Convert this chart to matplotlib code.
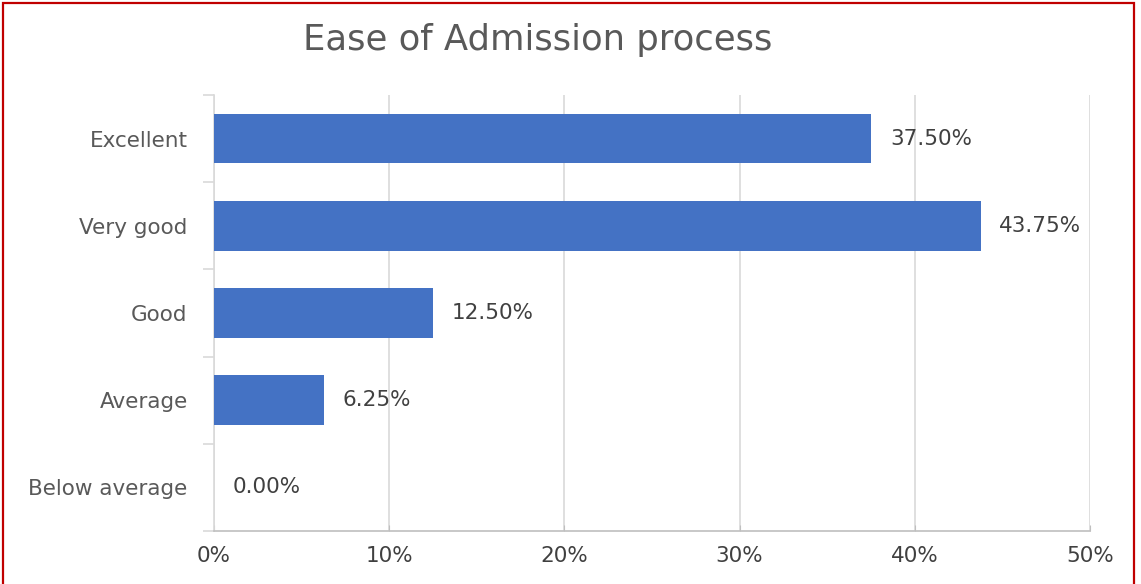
import matplotlib.pyplot as plt
from matplotlib.patches import Rectangle
from matplotlib.ticker import PercentFormatter

categories = ["Excellent", "Very good", "Good", "Average", "Below average"]
values = [37.50, 43.75, 12.50, 6.25, 0.00]
x_ticks = [0, 10, 20, 30, 40, 50]

plt.rcParams['font.family'] = ['DejaVu Sans']

fig = plt.figure(figsize=(11.41, 5.84), dpi=100)
ax = fig.add_axes([0.1876, 0.0908, 0.7677, 0.7466])

pos = list(range(len(categories)))
ax.barh(pos, values, height=0.57, color='#4472C4', zorder=3)
for p, v in zip(pos, values):
    ax.text(v + 1.08, p, f"{v:.2f}%", va='center', ha='left',
            fontsize=15.5, color='#404040')

ax.set_ylim(len(categories) - 0.5, -0.5)
ax.set_xlim(0, 50)
ax.set_xticks(x_ticks)
ax.xaxis.set_major_formatter(PercentFormatter(decimals=0))
ax.set_yticks(pos)
ax.set_yticklabels(categories)
ax.set_yticks([i - 0.5 for i in range(len(categories) + 1)], minor=True)

ax.grid(axis='x', color='#d9d9d9', linewidth=1.2, zorder=0)
for s in ['top', 'right']:
    ax.spines[s].set_visible(False)
ax.spines['left'].set_color('#d9d9d9')
ax.spines['left'].set_linewidth(1.2)
ax.spines['bottom'].set_color('#bfbfbf')
ax.spines['bottom'].set_linewidth(1.2)

ax.tick_params(axis='y', which='major', length=0, pad=19, labelsize=15.5, labelcolor='#595959')
ax.tick_params(axis='y', which='minor', length=8, color='#d9d9d9', width=1.2)
ax.tick_params(axis='x', length=4, direction='in', color='#bfbfbf', pad=11,
               labelsize=15.5, labelcolor='#404040')

fig.text(0.471, 0.932, "Ease of Admission process", ha='center', va='center',
         fontsize=25.5, color='#595959')

fig.patches.append(Rectangle((3 / 1141, -0.05), 1131 / 1141, 1.05 - 3 / 584,
                             transform=fig.transFigure, fill=False,
                             edgecolor='#c00000', linewidth=1.6))

fig.savefig("out.png", dpi=100)
